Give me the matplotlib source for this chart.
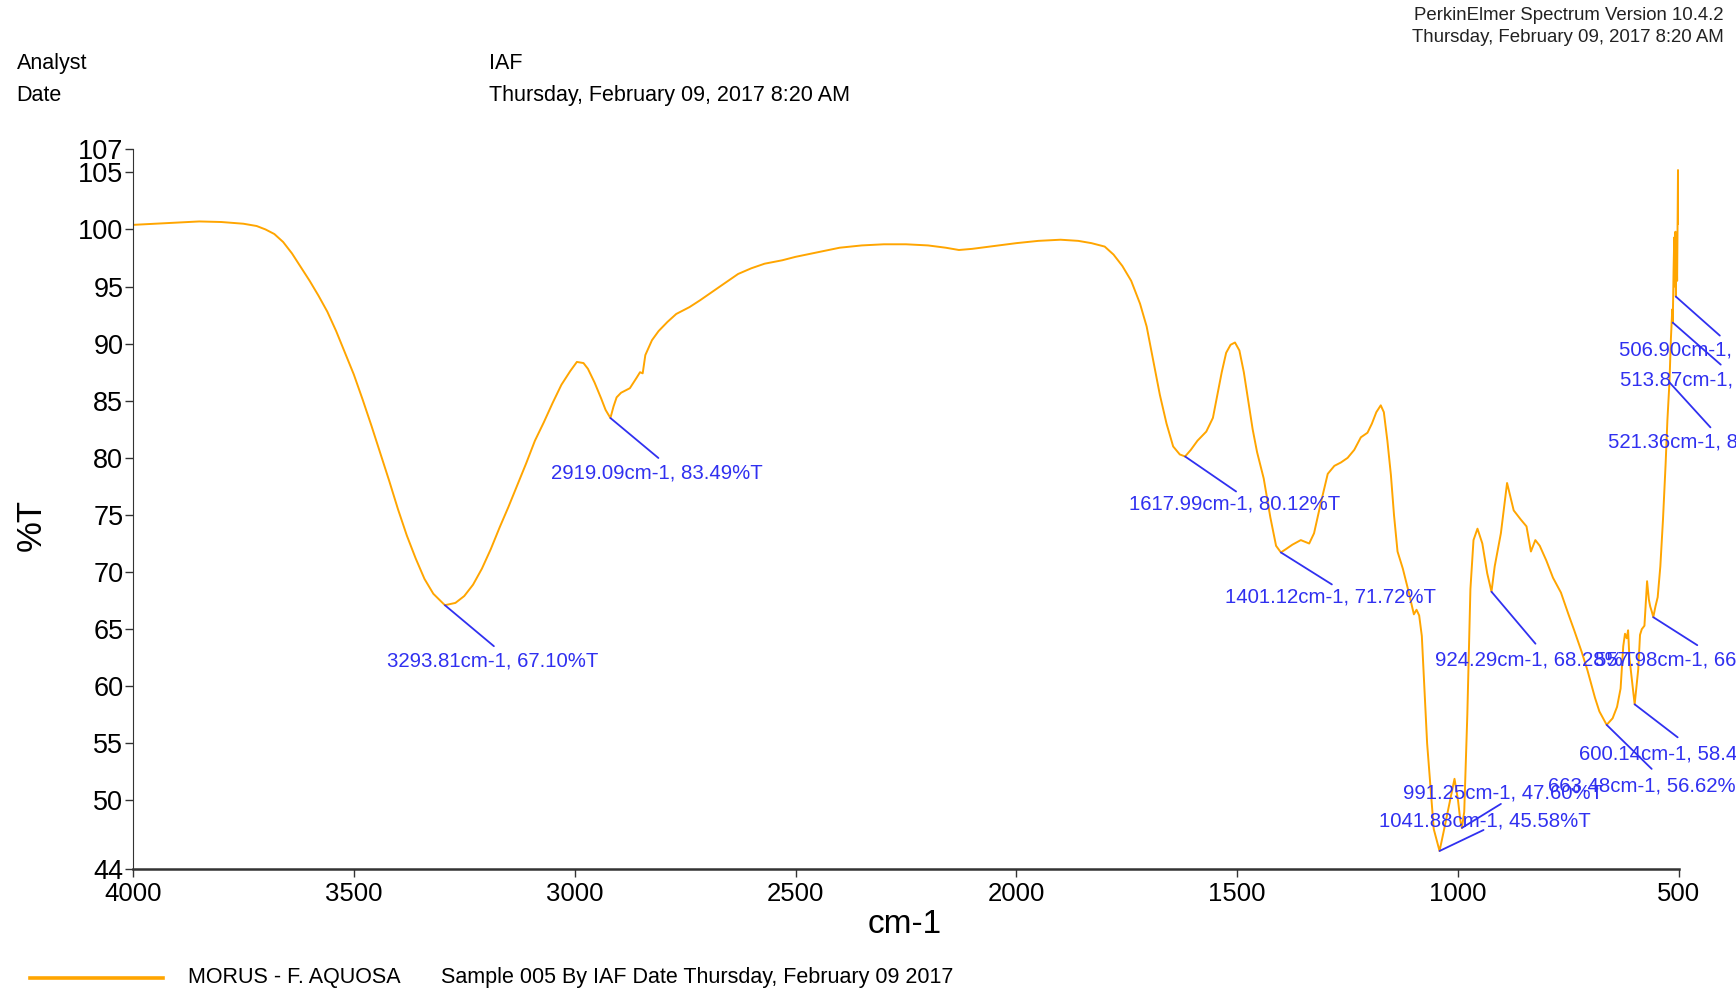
import matplotlib
matplotlib.use('Agg')
import matplotlib.pyplot as plt
from matplotlib.lines import Line2D

plt.rcParams['font.family'] = ['Liberation Sans', 'DejaVu Sans']

# spectrum (cm-1, %T)
wavenumber = [
    4000, 3950, 3900, 3850, 3800, 3750, 3720, 3700, 3680, 3660, 3640, 3620,
    3600, 3580, 3560, 3540, 3520, 3500, 3480, 3460, 3440, 3420, 3400, 3380,
    3360, 3340, 3320, 3293.81, 3270, 3250, 3230, 3210, 3190, 3170, 3150, 3130,
    3110, 3090, 3070, 3050, 3030, 3010, 2995, 2980, 2970, 2955, 2940, 2930,
    2919.09, 2912, 2905, 2895, 2875, 2860, 2852, 2846, 2840, 2825, 2810, 2790,
    2770, 2740, 2716, 2690, 2660, 2630, 2600, 2570, 2530, 2500, 2450, 2400,
    2350, 2300, 2250, 2200, 2160, 2130, 2100, 2060, 2000, 1950, 1900, 1860,
    1830, 1800, 1780, 1760, 1740, 1720, 1705, 1690, 1675, 1660, 1645, 1630,
    1617.99, 1605, 1590, 1570, 1555, 1545, 1535, 1525, 1515, 1505, 1495, 1485,
    1475, 1465, 1455, 1440, 1425, 1412, 1401.12, 1390, 1375, 1356, 1337, 1326,
    1311, 1295, 1280, 1265, 1250, 1235, 1220, 1205, 1195, 1185, 1175, 1168,
    1160, 1152, 1145, 1137, 1125, 1112, 1100, 1094, 1088, 1082, 1070, 1055,
    1041.88, 1033, 1018, 1008, 1000, 995, 991.25, 986, 979, 972, 965, 956,
    945, 934, 924.29, 917, 903, 889, 874, 858, 845, 835, 825, 815,
    800, 785, 767, 750, 737, 720, 707, 690, 680, 663.48, 650, 640,
    632, 626, 622, 618, 615, 612, 600.14, 596, 592, 588, 584, 578,
    572, 568, 565, 561, 557.98, 553, 548, 542, 536, 530, 526, 521.36,
    518, 515, 513.87, 512, 510.5, 509, 507.8, 506.90, 505.5, 504, 503, 502,
    501,
]
transmittance = [
    100.4, 100.5, 100.6, 100.7, 100.65, 100.5, 100.3, 100.0, 99.6, 98.9, 97.9, 96.7,
    95.5, 94.2, 92.8, 91.1, 89.2, 87.3, 85.1, 82.8, 80.4, 78.0, 75.5, 73.2,
    71.2, 69.4, 68.1, 67.10, 67.3, 67.9, 68.9, 70.3, 72.0, 73.9, 75.7, 77.6,
    79.5, 81.5, 83.1, 84.8, 86.4, 87.6, 88.4, 88.3, 87.8, 86.6, 85.2, 84.2,
    83.49, 84.5, 85.3, 85.7, 86.1, 87.0, 87.5, 87.4, 89.0, 90.3, 91.1, 91.9,
    92.6, 93.2, 93.8, 94.5, 95.3, 96.1, 96.6, 97.0, 97.3, 97.6, 98.0, 98.4,
    98.6, 98.7, 98.7, 98.6, 98.4, 98.2, 98.3, 98.5, 98.8, 99.0, 99.1, 99.0,
    98.8, 98.5, 97.8, 96.8, 95.5, 93.5, 91.5, 88.5, 85.5, 83.0, 81.0, 80.3,
    80.12, 80.7, 81.5, 82.3, 83.5, 85.5, 87.5, 89.2, 89.9, 90.1, 89.4, 87.5,
    85.0, 82.5, 80.5, 78.2, 74.8, 72.3, 71.72, 72.0, 72.4, 72.8, 72.5, 73.4,
    76.0, 78.6, 79.3, 79.6, 80.0, 80.7, 81.8, 82.2, 83.0, 84.0, 84.6, 84.0,
    81.5, 78.5, 75.0, 71.8, 70.3, 68.3, 66.3, 66.7, 66.2, 64.4, 55.0, 47.5,
    45.58, 47.2, 50.0, 51.9, 50.0, 48.3, 47.60, 49.0, 57.5, 68.5, 72.8, 73.8,
    72.5, 69.9, 68.28, 70.5, 73.4, 77.8, 75.4, 74.6, 74.0, 71.8, 72.8, 72.3,
    71.0, 69.5, 68.2, 66.3, 64.9, 63.0, 61.4, 59.0, 57.8, 56.62, 57.2, 58.2,
    59.8, 63.5, 64.6, 64.2, 64.9, 62.5, 58.42, 60.0, 61.5, 64.5, 65.0, 65.3,
    69.2, 67.6, 67.0, 66.5, 66.05, 67.0, 67.8, 70.5, 74.6, 79.5, 83.3, 86.61,
    90.5, 93.0, 91.84, 96.5, 99.3, 95.0, 99.8, 94.12, 99.6, 95.5, 100.3, 105.2,
    100.5,
]

# labelled peaks
peak_wn = [3293.81, 2919.09, 1617.99, 1401.12, 924.29, 991.25, 1041.88,
           663.48, 600.14, 557.98, 521.36, 513.87, 506.90]
peak_t = [67.10, 83.49, 80.12, 71.72, 68.28, 47.60, 45.58,
          56.62, 58.42, 66.05, 86.61, 91.84, 94.12]

x_ticks = [4000, 3500, 3000, 2500, 2000, 1500, 1000, 500]
y_ticks = [44, 50, 55, 60, 65, 70, 75, 80, 85, 90, 95, 100, 105, 107]

orange = '#ffa500'
blue = '#3030f0'

fig = plt.figure(figsize=(17.36, 9.9), dpi=100)
ax = fig.add_axes([0.0766, 0.1222, 0.8905, 0.7268])

ax.plot(wavenumber, transmittance, color=orange, lw=1.4)

ax.set_xlim(4000, 500)
ax.set_ylim(44, 107)
ax.set_xticks(x_ticks)
ax.set_yticks(y_ticks)
ax.tick_params(axis='x', labelsize=18.5, length=6, width=1, color='#333333', pad=3)
ax.tick_params(axis='y', labelsize=19.5, length=6, width=1, color='#333333', pad=1)
for s in ['top', 'right']:
    ax.spines[s].set_visible(False)
ax.spines['left'].set_color('#333333')
ax.spines['bottom'].set_color('#333333')
ax.spines['bottom'].set_linewidth(1.8)

# peak labels (offsets in pixels)
line_off = [(49, -41), (48, -40), (51, -35), (51, -32), (44, -52), (39, 24), (44, 21),
            (45, -44), (43, -33), (44, -28), (41, -45), (48, -42), (44, -39)]
text_off = [(-58, -56), (-59, -55), (-56, -48), (-56, -45), (-56, -68), (-59, 35), (-61, 30),
            (-59, -61), (-56, -50), (-58, -43), (-61, -60), (-53, -57), (-57, -53)]
for i in range(len(peak_wn)):
    wn, t = peak_wn[i], peak_t[i]
    ax.annotate('', xy=(wn, t), xytext=line_off[i], textcoords='offset pixels',
                arrowprops=dict(arrowstyle='-', color=blue, lw=1.3,
                                shrinkA=0, shrinkB=0))
    ax.annotate('%.2fcm-1, %.2f%%T' % (wn, t), xy=(wn, t), xytext=text_off[i],
                textcoords='offset pixels', color=blue, fontsize=14.7,
                ha='left', va='center', annotation_clip=False)

fig.text(0.521, 0.0663, 'cm-1', fontsize=24, ha='center', va='center')
fig.text(0.0179, 0.470, '%T', fontsize=25, rotation=90, ha='center', va='center')

# header
fig.text(0.0096, 0.936, 'Analyst', fontsize=15.5, va='center')
fig.text(0.0096, 0.904, 'Date', fontsize=15.5, va='center')
fig.text(0.2817, 0.936, 'IAF', fontsize=15.5, va='center')
fig.text(0.2817, 0.904, 'Thursday, February 09, 2017 8:20 AM', fontsize=15.5, va='center')
fig.text(0.993, 0.984, 'PerkinElmer Spectrum Version 10.4.2', fontsize=13.4,
         ha='right', va='center', color='#222222')
fig.text(0.993, 0.962, 'Thursday, February 09, 2017 8:20 AM', fontsize=13.4,
         ha='right', va='center', color='#222222')

# legend at the bottom
fig.add_artist(Line2D([0.0172, 0.0937], [0.0125, 0.0125], color=orange, lw=2.6,
                      transform=fig.transFigure))
fig.text(0.1083, 0.0125, 'MORUS - F. AQUOSA', fontsize=15.5, va='center')
fig.text(0.2538, 0.0125, 'Sample 005 By IAF Date Thursday, February 09 2017',
         fontsize=15.5, va='center')

fig.savefig('out.png', dpi=100)
